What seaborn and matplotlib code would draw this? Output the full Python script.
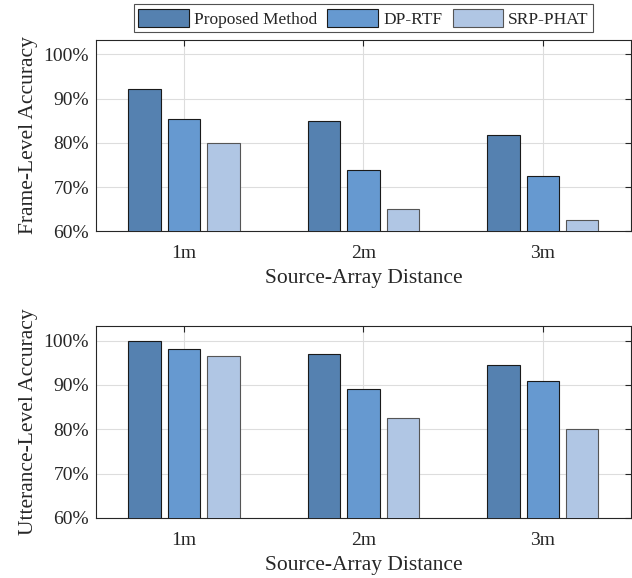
import pandas as pd
import matplotlib
matplotlib.use("Agg")
import matplotlib.pyplot as plt
import seaborn as sns
from matplotlib.ticker import FuncFormatter

# Data
distances = ["1m", "2m", "3m"]
methods = ["Proposed Method", "DP-RTF", "SRP-PHAT"]
frame_proposed = [92.2, 85.0, 81.8]
frame_dprtf = [85.4, 73.8, 72.5]
frame_srp = [80.0, 65.0, 62.5]
utt_proposed = [100.0, 97.0, 94.5]
utt_dprtf = [98.0, 89.0, 91.0]
utt_srp = [96.5, 82.5, 80.0]
yticks = [60, 70, 80, 90, 100]

colors = ["#5581b0", "#6699d0", "#b0c6e4"]
edges = ["#1a1a1a", "#1a1a1a", "#555555"]


def to_long(a, b, c):
    rows = []
    for vals, m in zip([a, b, c], methods):
        for d, v in zip(distances, vals):
            rows.append({"distance": d, "method": m, "acc": v})
    return pd.DataFrame(rows)


df_frame = to_long(frame_proposed, frame_dprtf, frame_srp)
df_utt = to_long(utt_proposed, utt_dprtf, utt_srp)

sns.set_style("white")
plt.rcParams["font.family"] = ["Liberation Serif", "DejaVu Serif"]

fig = plt.figure(figsize=(6.32, 5.78), dpi=100)
ax1 = fig.add_axes([0.152, 0.600, 0.846, 0.331])
ax2 = fig.add_axes([0.152, 0.104, 0.846, 0.332])

pct = FuncFormatter(lambda v, p: f"{v:.0f}%")

for ax, df, ylabel in [(ax1, df_frame, "Frame-Level Accuracy"),
                       (ax2, df_utt, "Utterance-Level Accuracy")]:
    sns.barplot(data=df, x="distance", y="acc", hue="method", palette=colors,
                saturation=1, width=0.66, gap=0.18, edgecolor="#1a1a1a",
                linewidth=0.8, ax=ax, zorder=3, legend=(ax is ax1))
    for cont, ec in zip(ax.containers, edges):
        for bar in cont:
            bar.set_edgecolor(ec)
    ax.set_ylim(60, 103.3)
    ax.set_xlim(-0.49, 2.49)
    ax.set_yticks(yticks)
    ax.yaxis.set_major_formatter(pct)
    ax.grid(True, color="#dddddd", linewidth=0.8, zorder=0)
    ax.set_axisbelow(True)
    ax.tick_params(direction="in", length=4, width=0.8, top=True, right=True,
                   labelsize=14, colors="#262626", pad=5)
    ax.tick_params(axis="x", pad=10)
    for s in ax.spines.values():
        s.set_color("#262626")
        s.set_linewidth(0.8)
    ax.set_xlabel("Source-Array Distance", fontsize=15.5, color="#262626", labelpad=5)
    ax.set_ylabel(ylabel, fontsize=15.5, color="#262626", labelpad=4)

leg = ax1.legend(loc="lower center", bbox_to_anchor=(0.5, 0.995), ncol=3,
                 fontsize=12.5, frameon=True, fancybox=False, edgecolor="#262626",
                 handlelength=2.9, handleheight=1.3, handletextpad=0.3,
                 columnspacing=0.6, borderpad=0.25, title=None)
leg.get_frame().set_linewidth(0.8)
for h, ec in zip(leg.legend_handles, edges):
    h.set_edgecolor(ec)

fig.savefig("out.png", dpi=100)
